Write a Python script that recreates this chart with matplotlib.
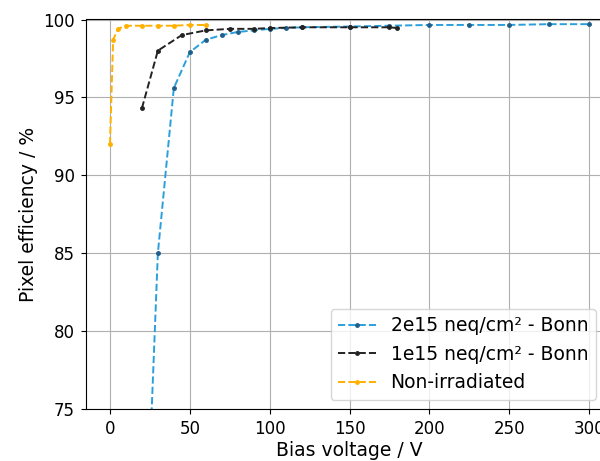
import numpy as np
import matplotlib
matplotlib.use("Agg")
import matplotlib.pyplot as plt

# Pixel efficiency vs bias voltage for three sensors
v_2e15 = [25, 30, 40, 50, 60, 70, 80, 90, 100, 110, 120, 150, 175, 200, 225, 250, 275, 300]
eff_2e15 = [72.0, 85.0, 95.6, 97.9, 98.7, 99.0, 99.2, 99.3, 99.4, 99.45, 99.5, 99.55, 99.6,
            99.65, 99.65, 99.65, 99.7, 99.7]

v_1e15 = [20, 30, 45, 60, 75, 90, 100, 120, 150, 175, 180]
eff_1e15 = [94.3, 98.0, 99.0, 99.3, 99.4, 99.4, 99.45, 99.5, 99.5, 99.5, 99.45]

v_unirr = [0, 2, 5, 10, 20, 30, 40, 50, 60]
eff_unirr = [92.0, 98.7, 99.4, 99.6, 99.6, 99.6, 99.6, 99.65, 99.65]

plt.rcParams.update({"font.family": "DejaVu Sans", "font.size": 12})

fig = plt.figure(figsize=(6.0, 4.61), dpi=100)
ax = fig.add_axes([86 / 600, 52 / 461, 527 / 600, 389.5 / 461])

ax.plot(v_2e15, eff_2e15, "--", color="#2a9fdc", marker=".", markersize=5,
        markerfacecolor="#1f5f8a", markeredgecolor="#1f5f8a", linewidth=1.4,
        label="2e15 neq/cm² - Bonn")
ax.plot(v_1e15, eff_1e15, "--", color="#222222", marker=".", markersize=5,
        linewidth=1.4, label="1e15 neq/cm² - Bonn")
ax.plot(v_unirr, eff_unirr, "--", color="#ffb000", marker=".", markersize=5,
        linewidth=1.4, label="Non-irradiated")

ax.set_xlim(-15, 315)
ax.set_ylim(75, 100)
ax.set_xticks(np.arange(0, 301, 50))
ax.set_yticks(np.arange(75, 101, 5))
ax.tick_params(labelsize=12, pad=4.5)
ax.grid(True, color="#b0b0b0", linewidth=0.8)
ax.set_xlabel("Bias voltage / V", fontsize=13.5, labelpad=2)
ax.set_ylabel("Pixel efficiency / %", fontsize=13.5)
ax.legend(loc="lower right", bbox_to_anchor=(0.985, 0.0), fontsize=13.5)

fig.savefig("out.png", dpi=100)
